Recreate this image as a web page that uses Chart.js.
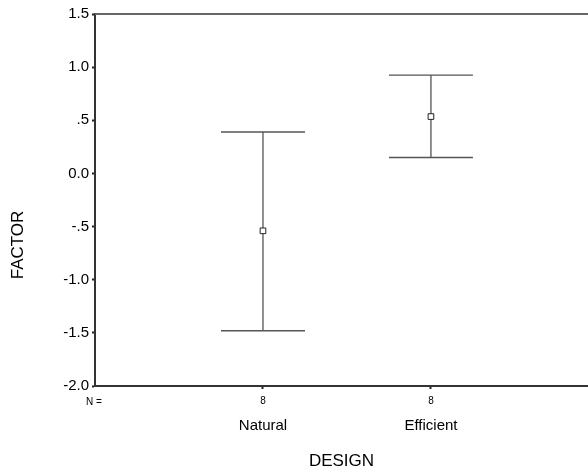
<!DOCTYPE html>
<html>
<head>
<meta charset="utf-8">
<script src="https://cdn.jsdelivr.net/npm/chart.js@4"></script>
<style>
  html, body { margin: 0; padding: 0; background: #fff; }
</style>
</head>
<body>
<canvas id="errChart" width="588" height="469"></canvas>
<script>
// data
const categories = ['Natural', 'Efficient'];
const counts = [8, 8];
const means = [-0.54, 0.535];
const lowerCI = [-1.48, 0.15];
const upperCI = [0.39, 0.925];

const FONT = "'Liberation Sans', Arial, sans-serif";

function fmtTick(v) {
    if (Math.abs(v) < 1e-9) return '0.0';
    let s = v.toFixed(1);
    return s.replace(/^(-?)0\./, '$1.');
}

// error bars + frame + extra labels
const errorBars = {
    id: 'errorBars',
    beforeDatasetsDraw(chart) {
        const ctx = chart.ctx;
        const x = chart.scales.x;
        const y = chart.scales.y;
        const area = chart.chartArea;
        ctx.save();
        // top frame line
        ctx.strokeStyle = '#666';
        ctx.lineWidth = 2;
        ctx.beginPath();
        ctx.moveTo(area.left, area.top);
        ctx.lineTo(chart.width, area.top);
        ctx.stroke();

        ctx.strokeStyle = '#555';
        ctx.lineWidth = 1.3;
        for (let i = 0; i < categories.length; i++) {
            const px = x.getPixelForValue(i + 1);
            const lo = y.getPixelForValue(lowerCI[i]);
            const hi = y.getPixelForValue(upperCI[i]);
            ctx.beginPath();
            ctx.moveTo(px, lo);
            ctx.lineTo(px, hi);
            ctx.moveTo(px - 42, lo);
            ctx.lineTo(px + 42, lo);
            ctx.moveTo(px - 42, hi);
            ctx.lineTo(px + 42, hi);
            ctx.stroke();
        }
        ctx.restore();
    },
    afterDraw(chart) {
        const ctx = chart.ctx;
        ctx.save();
        ctx.fillStyle = '#000';
        ctx.font = '10px ' + FONT;
        ctx.textAlign = 'left';
        ctx.textBaseline = 'middle';
        ctx.fillText('N =', 86, 402);

        ctx.font = '17px ' + FONT;
        ctx.translate(18.5, 245);
        ctx.rotate(-Math.PI / 2);
        ctx.textAlign = 'center';
        ctx.fillText('FACTOR', 0, 0);
        ctx.restore();
    }
};

const ctx = document.getElementById('errChart').getContext('2d');
new Chart(ctx, {
    type: 'scatter',
    data: {
        datasets: [{
            data: means.map((m, i) => ({ x: i + 1, y: m })),
            pointStyle: 'rect',
            radius: 4,
            hoverRadius: 4,
            backgroundColor: '#fff',
            borderColor: '#222',
            borderWidth: 1
        }]
    },
    plugins: [errorBars],
    options: {
        responsive: false,
        animation: false,
        layout: { autoPadding: false, padding: { top: 14, left: 0, right: 0, bottom: 0 } },
        plugins: {
            legend: { display: false },
            tooltip: { enabled: false }
        },
        scales: {
            y: {
                min: -2,
                max: 1.5,
                afterFit(scale) { scale.width = 95; },
                ticks: {
                    stepSize: 0.5,
                    color: '#000',
                    padding: 3,
                    font: { family: FONT, size: 15 },
                    callback: fmtTick
                },
                grid: { drawOnChartArea: false, tickLength: 3, tickColor: '#222', tickWidth: 2 },
                border: { color: '#333', width: 2 }
            },
            x: {
                type: 'linear',
                position: 'bottom',
                min: 0,
                max: 2.935,
                afterBuildTicks(scale) {
                    scale.ticks = categories.map((c, i) => ({ value: i + 1 }));
                },
                afterFit(scale) { scale.height = 22; },
                ticks: {
                    color: '#000',
                    padding: 6,
                    maxRotation: 0,
                    font: { family: FONT, size: 10 },
                    callback: (v) => counts[v - 1]
                },
                grid: { drawOnChartArea: false, tickLength: 3, tickColor: '#222', tickWidth: 2 },
                border: { color: '#333', width: 2 }
            },
            xCat: {
                type: 'linear',
                position: 'bottom',
                min: 0,
                max: 2.935,
                afterBuildTicks(scale) {
                    scale.ticks = categories.map((c, i) => ({ value: i + 1 }));
                },
                afterFit(scale) { scale.height = 61; },
                ticks: {
                    color: '#000',
                    padding: 9,
                    maxRotation: 0,
                    font: { family: FONT, size: 15 },
                    callback: (v) => categories[v - 1]
                },
                grid: { display: false, drawTicks: false },
                border: { display: false },
                title: {
                    display: true,
                    text: 'DESIGN',
                    color: '#000',
                    padding: { top: 0, bottom: -3 },
                    font: { family: FONT, size: 17 }
                }
            }
        }
    }
});
</script>
</body>
</html>
